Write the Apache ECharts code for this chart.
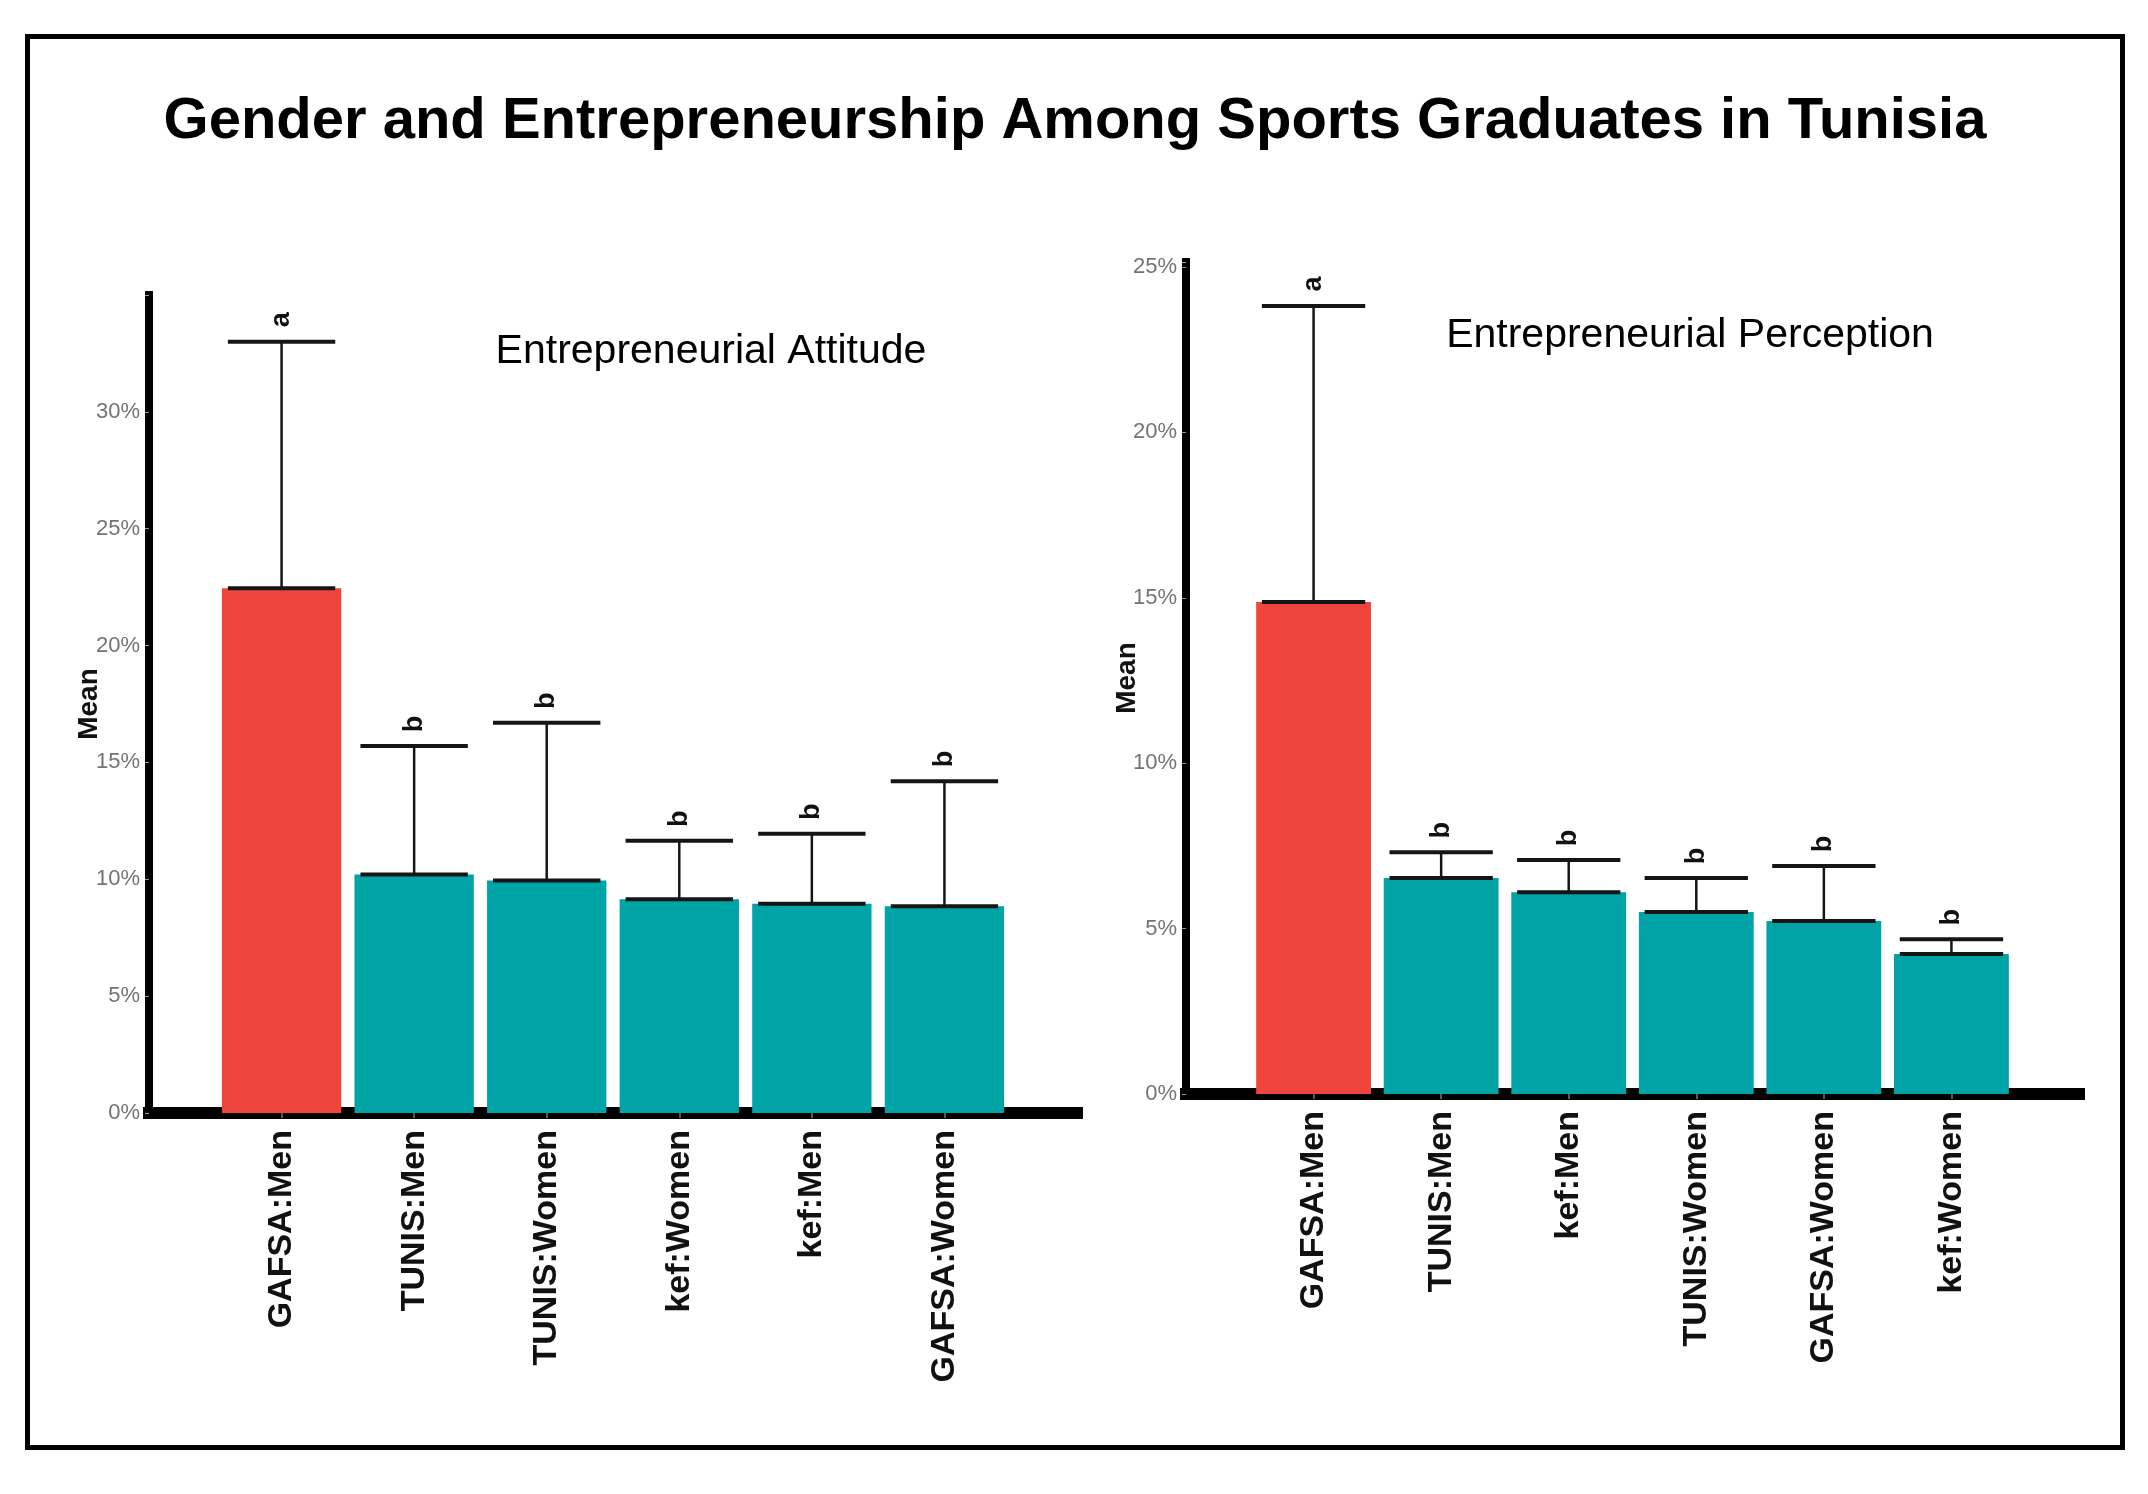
<!DOCTYPE html>
<html><head><meta charset="utf-8">
<script src="https://cdn.jsdelivr.net/npm/echarts@6/dist/echarts.min.js"></script>
<style>html,body{margin:0;padding:0;background:#fff}#chart{width:2148px;height:1494px}</style>
</head><body><div id="chart"></div>
<script>
const chartTitle = 'Gender and Entrepreneurship Among Sports Graduates in Tunisia';
const panelTitles = ['Entrepreneurial Attitude', 'Entrepreneurial Perception'];
const yAxisName = 'Mean';

// Panel 1: Entrepreneurial Attitude
const categories1 = ['GAFSA:Men', 'TUNIS:Men', 'TUNIS:Women', 'kef:Women', 'kef:Men', 'GAFSA:Women'];
const means1 = [22.45, 10.2, 9.95, 9.15, 8.95, 8.85];
const upper1 = [33.0, 15.7, 16.7, 11.65, 11.95, 14.2];
const letters1 = ['a', 'b', 'b', 'b', 'b', 'b'];
const yTicks1 = [0, 5, 10, 15, 20, 25, 30];

// Panel 2: Entrepreneurial Perception
const categories2 = ['GAFSA:Men', 'TUNIS:Men', 'kef:Men', 'TUNIS:Women', 'GAFSA:Women', 'kef:Women'];
const means2 = [14.87, 6.53, 6.1, 5.5, 5.23, 4.23];
const upper2 = [23.82, 7.31, 7.07, 6.53, 6.89, 4.68];
const letters2 = ['a', 'b', 'b', 'b', 'b', 'b'];
const yTicks2 = [0, 5, 10, 15, 20, 25];

const RED = '#F0453D', TEAL = '#00A3A6', INK = '#151515';
const FONT = '"Liberation Sans", Arial, sans-serif';
const NARROW = '"Liberation Sans Narrow", "Arial Narrow", "Liberation Sans", sans-serif';

const pad = arr => [''].concat(arr, ['']);
const padNum = arr => [null].concat(arr, [null]);

function xAxisFor(gridIndex, cats) {
  return {
    type: 'category', gridIndex, data: pad(cats), boundaryGap: false,
    axisLine: { show: true, lineStyle: { color: '#000', width: 12, cap: 'square' } },
    axisTick: { show: true, length: 5, lineStyle: { color: '#777', width: 1.5 },
      interval: (i, v) => v !== '' },
    axisLabel: { interval: 0, rotate: 90, margin: 17, color: '#111', fontSize: 34,
      fontWeight: 'bold', fontFamily: FONT },
    splitLine: { show: false }
  };
}
function yAxisFor(gridIndex, max, ticks, gap) {
  return {
    type: 'value', gridIndex, min: 0, max, interval: 5,
    name: yAxisName, nameLocation: 'middle', nameGap: gap, nameRotate: 90, nameMoveOverlap: false,
    nameTextStyle: { fontSize: 28, fontWeight: 'bold', color: '#111', fontFamily: FONT },
    axisLine: { show: true, lineStyle: { color: '#000', width: 8, cap: 'square' } },
    axisTick: { show: true, length: 4, lineStyle: { color: '#999', width: 1 } },
    axisLabel: { color: '#737373', fontSize: 22, margin: 9, fontFamily: NARROW,
      formatter: v => { const r = Math.round(v * 100) / 100; return ticks.includes(r) ? r + '%' : ''; } },
    splitLine: { show: false }
  };
}
function barSeries(idx, means, letters) {
  return {
    type: 'bar', xAxisIndex: idx, yAxisIndex: idx, barWidth: '90%',
    data: padNum(means),
    itemStyle: { color: p => letters[p.dataIndex - 1] === 'a' ? RED : TEAL },
    z: 2
  };
}
function errSeries(idx, means, upper, letters) {
  return {
    type: 'custom', xAxisIndex: idx, yAxisIndex: idx, clip: false, z: 5,
    encode: { x: 0, y: [1, 2] },
    data: means.map((m, i) => [i + 1, m, upper[i]]),
    renderItem: (params, api) => {
      const x = api.value(0), m = api.value(1), u = api.value(2);
      const pM = api.coord([x, m]), pU = api.coord([x, u]);
      const hw = api.size([1, 0])[0] * 0.405;
      return { type: 'group', children: [
        { type: 'line', shape: { x1: pM[0], y1: pM[1], x2: pU[0], y2: pU[1] }, style: { stroke: INK, lineWidth: 2.5 } },
        { type: 'line', shape: { x1: pM[0] - hw, y1: pM[1], x2: pM[0] + hw, y2: pM[1] }, style: { stroke: INK, lineWidth: 4 } },
        { type: 'line', shape: { x1: pU[0] - hw, y1: pU[1], x2: pU[0] + hw, y2: pU[1] }, style: { stroke: INK, lineWidth: 4 } },
        { type: 'text', x: pU[0], y: pU[1] - 22, rotation: Math.PI / 2,
          style: { text: letters[params.dataIndex], fontSize: 27, fontWeight: 'bold', fill: '#111',
            align: 'center', verticalAlign: 'middle', fontFamily: FONT } }
      ] };
    }
  };
}

const chart = echarts.init(document.getElementById('chart'), null, { renderer: 'canvas' });
chart.setOption({
  backgroundColor: '#fff',
  animation: false,
  grid: [
    { left: 149, top: 295, width: 928, height: 818, outerBoundsMode: 'none', containLabel: false },
    { left: 1186, top: 262, width: 893, height: 832, outerBoundsMode: 'none', containLabel: false }
  ],
  xAxis: [xAxisFor(0, categories1), xAxisFor(1, categories2)],
  yAxis: [yAxisFor(0, 35, yTicks1, 46), yAxisFor(1, 25.15, yTicks2, 45)],
  series: [
    barSeries(0, means1, letters1), errSeries(0, means1, upper1, letters1),
    barSeries(1, means2, letters2), errSeries(1, means2, upper2, letters2)
  ],
  graphic: [
    { type: 'rect', shape: { x: 27.5, y: 36.5, width: 2095, height: 1411 },
      style: { fill: 'none', stroke: '#000', lineWidth: 5 }, z: 100 },
    { type: 'text', x: 1075, y: 122, style: { text: chartTitle, fontSize: 58, fontWeight: 'bold',
      fill: '#000', align: 'center', verticalAlign: 'middle', fontFamily: FONT }, z: 100 },
    { type: 'text', x: 711, y: 352, style: { text: panelTitles[0], fontSize: 41,
      fill: '#000', align: 'center', verticalAlign: 'middle', fontFamily: FONT }, z: 100 },
    { type: 'text', x: 1690, y: 336, style: { text: panelTitles[1], fontSize: 41,
      fill: '#000', align: 'center', verticalAlign: 'middle', fontFamily: FONT }, z: 100 }
  ]
});
</script></body></html>
